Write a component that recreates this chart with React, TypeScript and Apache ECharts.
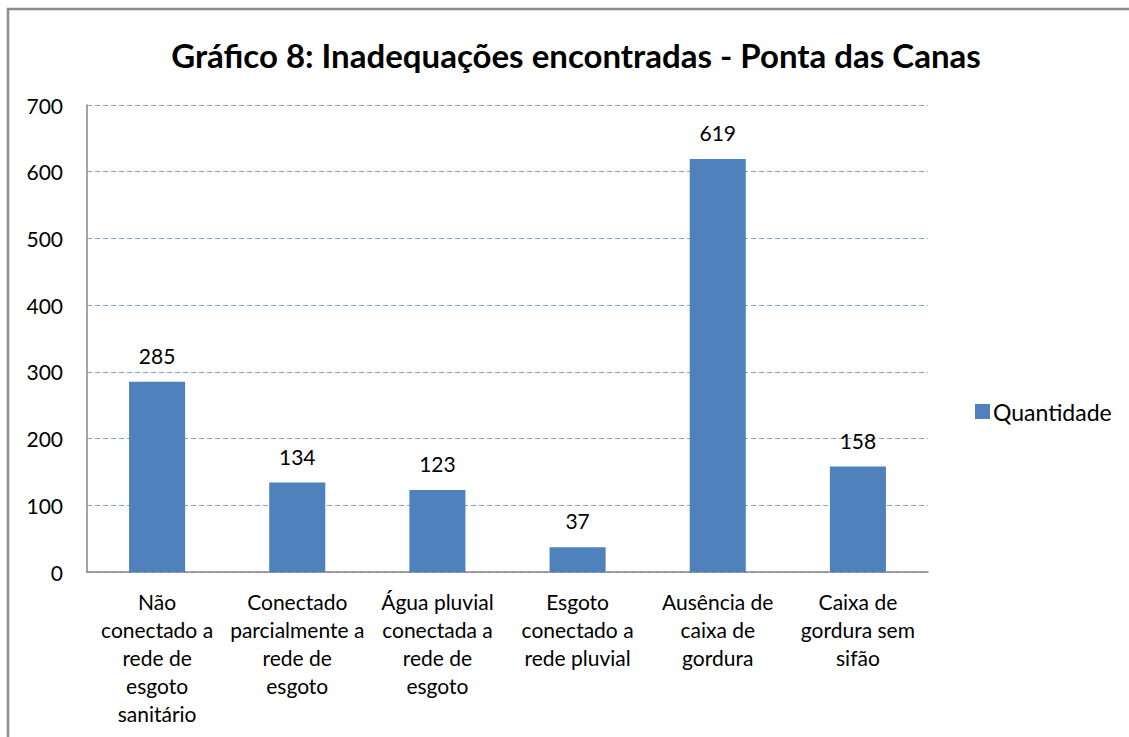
import React, { useEffect, useRef } from "react";
import * as echarts from "echarts";

const categories = [
  "Não\nconectado a\nrede de\nesgoto\nsanitário",
  "Conectado\nparcialmente a\nrede de\nesgoto",
  "Água pluvial\nconectada a\nrede de\nesgoto",
  "Esgoto\nconectado a\nrede pluvial",
  "Ausência de\ncaixa de\ngordura",
  "Caixa de\ngordura sem\nsifão",
];
const quantidade = [285, 134, 123, 37, 619, 158];
const seriesName = "Quantidade";
const titleText = "Gráfico 8: Inadequações encontradas - Ponta das Canas";

export default function App() {
  const ref = useRef<HTMLDivElement>(null);
  useEffect(() => {
    document.body.style.margin = "0";
    const chart = echarts.init(ref.current!, null, { renderer: "svg" });
    const font = "Lato, 'Open Sans', sans-serif";
    chart.setOption({
      animation: false,
      backgroundColor: "#ffffff",
      textStyle: { fontFamily: font },
      graphic: [
        {
          type: "rect",
          shape: { x: 8, y: 9, width: 1200, height: 800 },
          style: { fill: "none", stroke: "#8c8c8c", lineWidth: 2.5 },
          silent: true,
        },
      ],
      title: {
        text: titleText,
        left: 571,
        textAlign: "center",
        top: 33,
        textStyle: { fontFamily: font, fontSize: 33, fontWeight: "bold", color: "#000" },
      },
      legend: {
        data: [seriesName],
        left: 970,
        top: 395,
        itemWidth: 15,
        itemHeight: 15,
        itemGap: 6,
        icon: "rect",
        textStyle: { fontFamily: font, fontSize: 23, color: "#000", padding: [0, 0, 0, -2] },
      },
      grid: { left: 87, right: 201, top: 105, bottom: 165, containLabel: false },
      xAxis: {
        type: "category",
        data: categories,
        axisLine: { lineStyle: { color: "#868686", width: 1.5 } },
        axisTick: { show: false },
        axisLabel: {
          interval: 0,
          fontFamily: font,
          fontSize: 21,
          color: "#000",
          lineHeight: 28,
          margin: 15,
        },
      },
      yAxis: {
        type: "value",
        min: 0,
        max: 700,
        interval: 100,
        axisLine: { show: true, lineStyle: { color: "#868686", width: 1.5 } },
        axisTick: { show: false },
        axisLabel: { fontFamily: font, fontSize: 21, color: "#000", margin: 24 },
        splitLine: { lineStyle: { color: "#7fa3d4", type: [5, 3], width: 1 } },
      },
      series: [
        {
          name: seriesName,
          type: "bar",
          data: quantidade,
          barWidth: "40%",
          itemStyle: { color: "#4f81bd" },
          label: {
            show: true,
            position: "top",
            distance: 16,
            fontFamily: font,
            fontSize: 21,
            color: "#000",
          },
        },
      ],
    });
    return () => chart.dispose();
  }, []);
  return <div ref={ref} style={{ width: 1129, height: 737 }} />;
}
